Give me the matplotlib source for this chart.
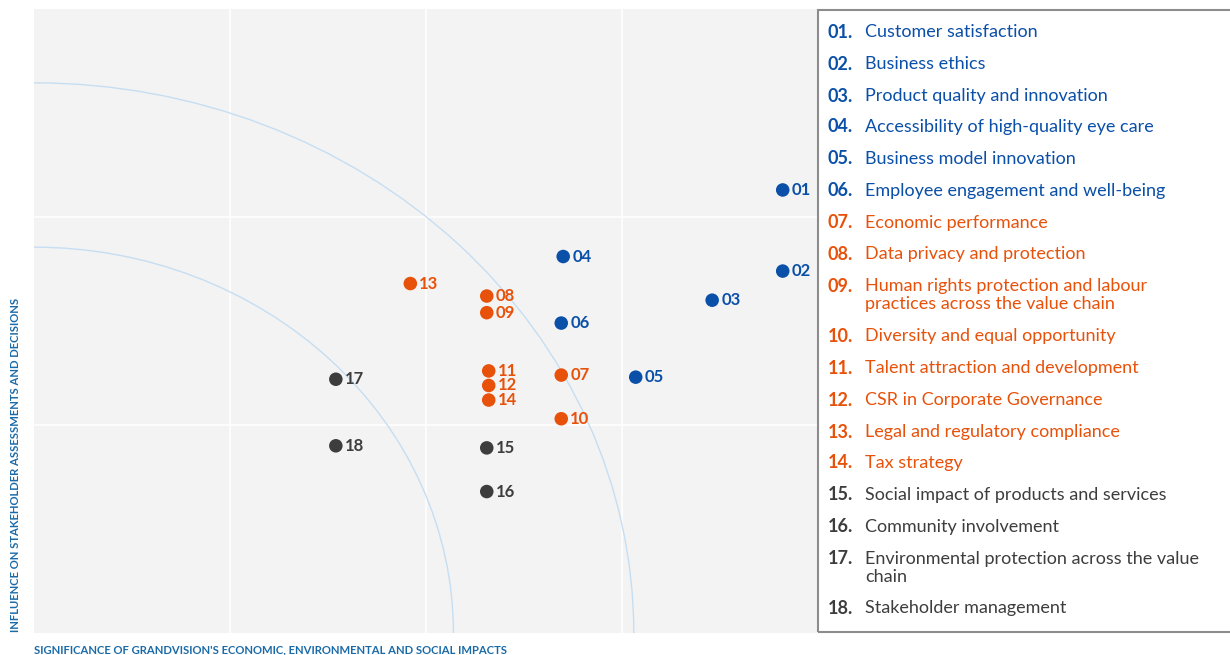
import matplotlib.pyplot as plt
from matplotlib.patches import Ellipse, Rectangle

plt.rcParams['font.family'] = ['Lato', 'DejaVu Sans']

# material topics
ids = ['01', '02', '03', '04', '05', '06', '07', '08', '09',
       '10', '11', '12', '13', '14', '15', '16', '17', '18']
names = ['Customer satisfaction', 'Business ethics', 'Product quality and innovation',
         'Accessibility of high-quality eye care', 'Business model innovation',
         'Employee engagement and well-being', 'Economic performance',
         'Data privacy and protection',
         'Human rights protection and labour\npractices across the value chain',
         'Diversity and equal opportunity', 'Talent attraction and development',
         'CSR in Corporate Governance', 'Legal and regulatory compliance',
         'Tax strategy', 'Social impact of products and services',
         'Community involvement',
         'Environmental protection across the value\nchain',
         'Stakeholder management']
group = ['b'] * 6 + ['o'] * 8 + ['g'] * 4
significance = [3.82, 3.82, 3.46, 2.70, 3.07, 2.69, 2.69, 2.31, 2.31,
                2.69, 2.32, 2.32, 1.92, 2.32, 2.31, 2.31, 1.54, 1.54]
influence = [2.13, 1.74, 1.60, 1.81, 1.23, 1.49, 1.24, 1.62, 1.54,
             1.03, 1.26, 1.19, 1.68, 1.12, 0.89, 0.68, 1.22, 0.90]

colors = {'b': '#0a4fa8', 'o': '#e8510a', 'g': '#3d3d3d'}
label_blue = '#1a6aa8'

W, H = 1230, 655
fig = plt.figure(figsize=(12.3, 6.55), dpi=100)
ax = fig.add_axes([34 / W, (H - 633) / H, (818 - 34) / W, (633 - 9) / H])
ax.set_facecolor('#f3f3f3')
ax.set_xlim(0, 4)
ax.set_ylim(0, 3)
for x in [1, 2, 3]:
    ax.axvline(x, color='white', lw=1.2, zorder=1)
for y in [1, 2]:
    ax.axhline(y, color='white', lw=1.2, zorder=1)
for rx, ry in [(2.14, 1.855), (3.06, 2.645)]:
    ax.add_patch(Ellipse((0, 0), 2 * rx, 2 * ry, fill=False,
                         edgecolor='#c6def2', lw=1.0, zorder=2))
for s in ax.spines.values():
    s.set_visible(False)
ax.set_xticks([])
ax.set_yticks([])

for i in range(len(ids)):
    c = colors[group[i]]
    ax.scatter(significance[i], influence[i], s=95, color=c, zorder=3,
               edgecolors='none')
    ax.annotate(ids[i], (significance[i], influence[i]), xytext=(6.5, 0),
                textcoords='offset points', va='center', ha='left',
                color=c, fontsize=12, fontweight='bold', zorder=4)

# axis titles
fig.text(34 / W, 1 - 650 / H, "SIGNIFICANCE OF GRANDVISION'S ECONOMIC, ENVIRONMENTAL AND SOCIAL IMPACTS",
         color=label_blue, fontsize=8.1, fontweight='bold', va='center', ha='left')
fig.text(16 / W, 1 - 632 / H, 'INFLUENCE ON STAKEHOLDER ASSESSMENTS AND DECISIONS',
         color=label_blue, fontsize=8.1, fontweight='bold', rotation=90,
         va='bottom', ha='center')

# legend box
fig.patches.append(Rectangle((818 / W, 1 - 632 / H), (1240 - 818) / W, (632 - 10) / H,
                             transform=fig.transFigure, fill=False,
                             edgecolor='#8c8c8c', lw=1.5))
rows_y = [32, 64, 96, 127, 159, 191, 223, 254, 286, 336, 368, 400,
          432, 463, 495, 527, 559, 608]
for i in range(len(ids)):
    c = colors[group[i]]
    y = 1 - rows_y[i] / H
    fig.text(828 / W, y, ids[i] + '.', color=c, fontsize=13,
             fontweight='bold', va='center', ha='left')
    if '\n' in names[i]:
        fig.text(865 / W, y + 8 / H, names[i], color=c, fontsize=13,
                 va='top', ha='left', linespacing=1.12)
    else:
        fig.text(865 / W, y, names[i], color=c, fontsize=13, va='center', ha='left')

fig.savefig('out.png', dpi=100)
